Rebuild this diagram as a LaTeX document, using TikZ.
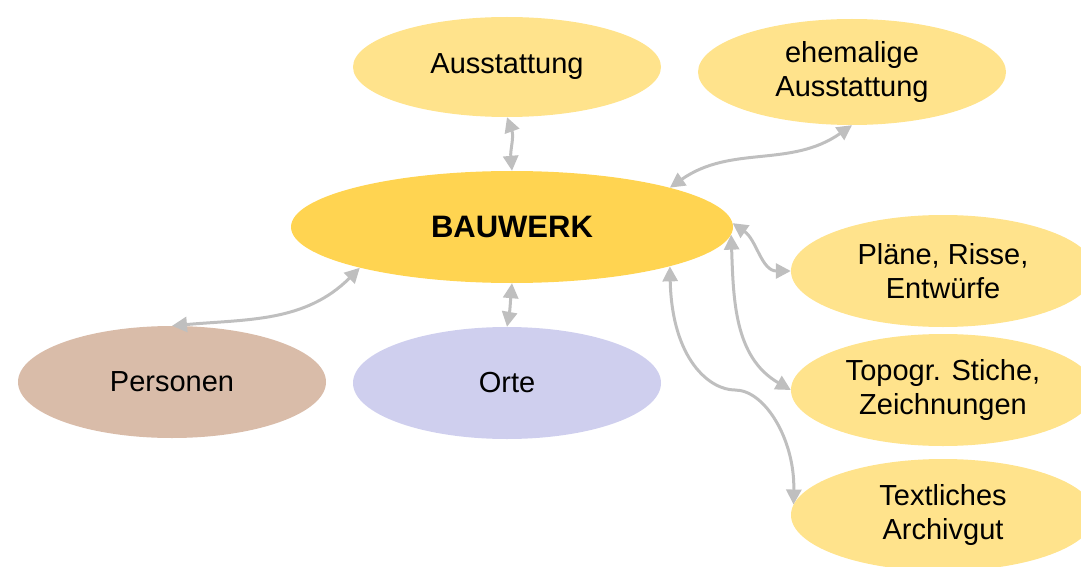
\documentclass[tikz,border=0pt]{standalone}
\usepackage{fontspec}
\setmainfont{Liberation Sans}
\usetikzlibrary{shapes.geometric,arrows.meta}

\definecolor{gelb}{HTML}{FFE38C}
\definecolor{gold}{HTML}{FFD451}
\definecolor{braun}{HTML}{D9BCA9}
\definecolor{lila}{HTML}{CFCFEE}
\definecolor{pfeil}{HTML}{BFBFBF}

\begin{document}
\begin{tikzpicture}[x=1pt,y=1pt]
  % Styles
    \tikzstyle{blase}=[ellipse,inner sep=0pt,minimum width=308pt,minimum height=106pt,
      align=center,font=\fontsize{29}{34}\selectfont]
    \tikzstyle{quelle}=[blase,fill=gelb,minimum width=304pt,minimum height=112pt]
    \tikzstyle{link}=[draw=pfeil,line width=3pt,
      {Triangle[length=15pt,width=15pt]}-{Triangle[length=15pt,width=15pt]}]

  % The graphic
    \clip (0,0) rectangle (1081,-567);

    \node[blase,fill=gold,minimum width=442pt,minimum height=112pt,
      font=\fontsize{31}{36}\selectfont\bfseries] (bau) at (512,-227) {BAUWERK};
    \node[blase,fill=gelb,minimum height=100pt] (aus) at (507,-67) {Ausstattung};
    \node[blase,fill=gelb] (ehem) at (852,-72) {ehemalige\\Ausstattung};
    \node[quelle] (plan) at (943,-271) {Pläne, Risse,\\Entwürfe};
    \node[quelle] (topo) at (943,-390) {Topogr. Stiche,\\Zeichnungen};
    \node[quelle] (arch) at (943,-515) {Textliches\\Archivgut};
    \node[blase,fill=braun,minimum height=112pt] (pers) at (172,-382) {Personen};
    \node[blase,fill=lila,minimum height=112pt] (orte) at (507,-383) {Orte};

    \draw[link] (aus.south) to[out=-70,in=95] (bau.north);
    \draw[link] (ehem.south) to[out=215,in=35] (bau.14);
    \draw[link] (bau.1) to[out=-35,in=180] (plan.west);
    \draw[link] (bau.-2) to[out=-88,in=150] (topo.west);
    \draw[link] (bau.-14) .. controls (672,-360) and (710,-390) .. (735,-390)
      .. controls (765,-390) and (795,-440) .. (arch.176);
    \draw[link] (bau.195) to[out=225,in=5] (pers.north);
    \draw[link] (bau.south) to[out=-95,in=80] (orte.north);
\end{tikzpicture}
\end{document}
